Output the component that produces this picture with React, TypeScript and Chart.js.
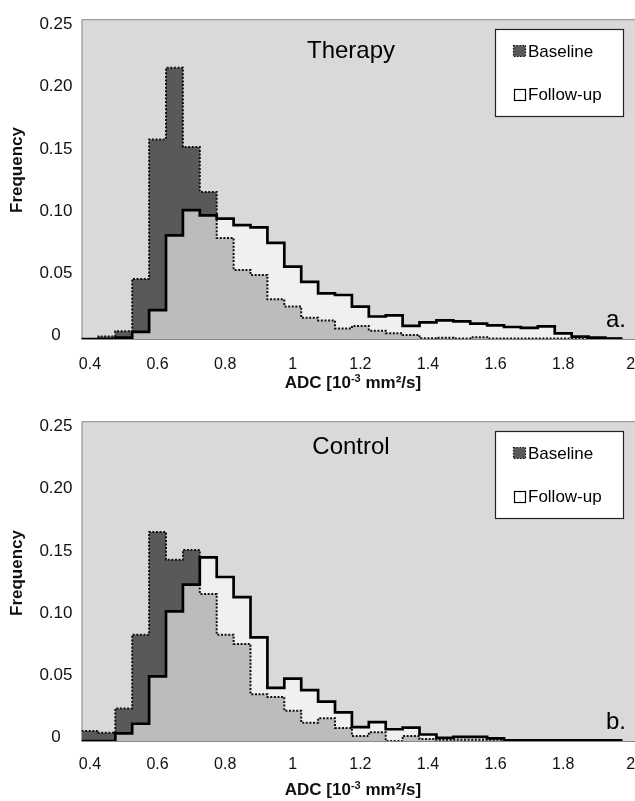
import React, { useEffect, useRef } from 'react';
import { Chart, registerables } from 'chart.js';

Chart.register(...registerables);

const FONT = "'Liberation Sans', Arial, Helvetica, sans-serif";

// Histogram bins (centres, 10^-3 mm²/s), bin width 0.05
const BIN_CENTERS = [
  0.40, 0.45, 0.50, 0.55, 0.60, 0.65, 0.70, 0.75, 0.80, 0.85, 0.90, 0.95,
  1.00, 1.05, 1.10, 1.15, 1.20, 1.25, 1.30, 1.35, 1.40, 1.45, 1.50, 1.55,
  1.60, 1.65, 1.70, 1.75, 1.80, 1.85, 1.90, 1.95,
];
const BIN_HALF_WIDTH = 0.025;

const X_TICKS = [0.4, 0.6, 0.8, 1, 1.2, 1.4, 1.6, 1.8, 2];
const Y_TICKS = [0, 0.05, 0.1, 0.15, 0.2, 0.25];
const SERIES_LABELS = ['Baseline', 'Follow-up'];
const Y_TITLE = 'Frequency';

const THERAPY_BASELINE = [
  0, 0.002, 0.006, 0.047, 0.156, 0.212, 0.150, 0.115, 0.079, 0.054, 0.050, 0.031,
  0.0255, 0.0166, 0.0145, 0.0082, 0.0102, 0.0064, 0.0044, 0.0031, 0.0005, 0.001, 0.0004, 0.0013,
  0.0004, 0.0003, 0.0003, 0.0003, 0.0003, 0.0003, 0.0003, 0.0003,
];
const THERAPY_FOLLOWUP = [
  0, 0, 0.001, 0.0056, 0.0225, 0.081, 0.1008, 0.0967, 0.0941, 0.089, 0.0872, 0.0752,
  0.0566, 0.0446, 0.0357, 0.0344, 0.0253, 0.0176, 0.0184, 0.0102, 0.013, 0.0145, 0.0138, 0.012,
  0.0107, 0.0094, 0.0087, 0.0099, 0.0044, 0.0018, 0.001, 0.0003,
];
const CONTROL_BASELINE = [
  0.0079, 0.0064, 0.0255, 0.0831, 0.1634, 0.1417, 0.1493, 0.1149, 0.0831, 0.0759, 0.0365, 0.0344,
  0.0237, 0.0143, 0.0178, 0.0102, 0.004, 0.0068, 0, 0.004, 0.0015, 0.001, 0.001, 0.001,
  0.001, 0, 0, 0, 0, 0, 0, 0,
];
const CONTROL_FOLLOWUP = [
  0, 0, 0.0059, 0.0135, 0.0505, 0.1014, 0.1223, 0.1435, 0.1282, 0.1124, 0.081, 0.0415,
  0.0487, 0.0398, 0.0308, 0.0224, 0.0109, 0.0148, 0.0092, 0.0105, 0.0051, 0.0025, 0.0033, 0.0033,
  0.002, 0.0005, 0.0005, 0.0005, 0.0005, 0.0005, 0.0005, 0.0005,
];

function steps(vals: number[]) {
  const pts = BIN_CENTERS.map((c, i) => ({ x: c - BIN_HALF_WIDTH, y: vals[i] }));
  pts.push({ x: BIN_CENTERS[BIN_CENTERS.length - 1] + BIN_HALF_WIDTH, y: vals[vals.length - 1] });
  return pts;
}

interface PanelSpec {
  title: string;
  letter: string;
  baseline: number[];
  followup: number[];
  height: number;
  titleBaseline: number;
  xTitleBaseline: number;
  yTitleCenter: number;
  tickPadding: number;
}

const plotBackground = {
  id: 'plotBackground',
  beforeDraw(chart: any) {
    const { ctx, chartArea: a } = chart;
    ctx.save();
    ctx.fillStyle = '#ffffff';
    ctx.fillRect(0, 0, chart.width, chart.height);
    ctx.fillStyle = '#d9d9d9';
    ctx.fillRect(a.left, a.top, a.right - a.left, a.bottom - a.top);
    ctx.strokeStyle = '#8a8a8a';
    ctx.lineWidth = 1;
    ctx.beginPath();
    ctx.moveTo(a.left + 0.5, a.bottom + 0.5);
    ctx.lineTo(a.left + 0.5, a.top + 0.5);
    ctx.lineTo(a.right, a.top + 0.5);
    ctx.moveTo(a.left, a.bottom + 0.5);
    ctx.lineTo(a.right, a.bottom + 0.5);
    ctx.stroke();
    ctx.restore();
  },
};

function overlayPlugin(spec: PanelSpec) {
  return {
    id: 'overlay',
    afterDraw(chart: any) {
      const { ctx } = chart;
      ctx.save();
      ctx.fillStyle = '#000';
      // panel title
      ctx.font = `24px ${FONT}`;
      ctx.textAlign = 'center';
      ctx.textBaseline = 'alphabetic';
      ctx.fillText(spec.title, 351, spec.titleBaseline);
      // panel letter
      ctx.textAlign = 'right';
      ctx.fillText(spec.letter, 626, 327);

      // y-axis title
      ctx.save();
      ctx.translate(17, spec.yTitleCenter);
      ctx.rotate(-Math.PI / 2);
      ctx.font = `bold 17px ${FONT}`;
      ctx.fillStyle = '#111';
      ctx.textAlign = 'center';
      ctx.textBaseline = 'middle';
      ctx.fillText(Y_TITLE, 0, 0);
      ctx.restore();

      // legend box
      ctx.fillStyle = '#ffffff';
      ctx.fillRect(495, 29, 128, 87);
      ctx.strokeStyle = '#222';
      ctx.lineWidth = 1.2;
      ctx.strokeRect(495.5, 29.5, 128, 87);
      // baseline marker
      ctx.fillStyle = '#595959';
      ctx.fillRect(513.5, 45.5, 12, 11);
      ctx.setLineDash([1.5, 1.5]);
      ctx.strokeStyle = '#111';
      ctx.lineWidth = 1.2;
      ctx.strokeRect(513.5, 45.5, 12, 11);
      ctx.setLineDash([]);
      // follow-up marker
      ctx.fillStyle = '#ffffff';
      ctx.fillRect(514.5, 89.5, 11, 11);
      ctx.strokeStyle = '#000';
      ctx.lineWidth = 1.2;
      ctx.strokeRect(514.5, 89.5, 11, 11);
      ctx.fillStyle = '#000';
      ctx.font = `17px ${FONT}`;
      ctx.textAlign = 'left';
      ctx.textBaseline = 'middle';
      ctx.fillText(SERIES_LABELS[0], 528, 52);
      ctx.fillText(SERIES_LABELS[1], 528, 95);

      // x-axis title with superscript
      const big = `bold 17px ${FONT}`;
      const small = `bold 11px ${FONT}`;
      const p1 = 'ADC [10';
      const p2 = '-3';
      const p3 = ' mm²/s]';
      ctx.font = big;
      const w1 = ctx.measureText(p1).width;
      const w3 = ctx.measureText(p3).width;
      ctx.font = small;
      const w2 = ctx.measureText(p2).width;
      const total = w1 + w2 + w3;
      let x = 353 - total / 2;
      ctx.fillStyle = '#111';
      ctx.textAlign = 'left';
      ctx.textBaseline = 'alphabetic';
      ctx.font = big;
      ctx.fillText(p1, x, spec.xTitleBaseline);
      x += w1;
      ctx.font = small;
      ctx.fillText(p2, x, spec.xTitleBaseline - 6);
      x += w2;
      ctx.font = big;
      ctx.fillText(p3, x, spec.xTitleBaseline);
      ctx.restore();
    },
  };
}

function makeConfig(spec: PanelSpec): any {
  const xAxisHeight = spec.height - 339;
  return {
    type: 'line',
    data: {
      datasets: [
        {
          label: SERIES_LABELS[1],
          data: steps(spec.followup),
          stepped: 'before',
          borderColor: '#000',
          borderWidth: 2.7,
          backgroundColor: 'rgba(255,255,255,0.6)',
          fill: 'origin',
          pointRadius: 0,
          yAxisID: 'y',
        },
        {
          label: SERIES_LABELS[0],
          data: steps(spec.baseline),
          stepped: 'before',
          borderColor: '#111',
          borderWidth: 2,
          borderDash: [2, 1.6],
          backgroundColor: '#595959',
          fill: 'origin',
          pointRadius: 0,
          yAxisID: 'y',
        },
      ],
    },
    options: {
      animation: false,
      responsive: false,
      maintainAspectRatio: false,
      devicePixelRatio: 1,
      layout: { padding: { top: 12, left: 0, right: 0, bottom: 0 } },
      plugins: {
        legend: { display: false },
        tooltip: { enabled: false },
        filler: { drawTime: 'beforeDatasetsDraw', propagate: false },
      },
      scales: {
        x: {
          type: 'linear',
          min: 0.375,
          max: 2.0125,
          afterBuildTicks: (s: any) => {
            s.ticks = X_TICKS.map((v) => ({ value: v }));
          },
          afterFit: (s: any) => {
            s.height = xAxisHeight;
            s.paddingLeft = 0;
            s.paddingRight = 0;
          },
          grid: { display: false, drawTicks: false },
          border: { display: false },
          ticks: {
            font: { family: FONT, size: 16 },
            color: '#111',
            padding: spec.tickPadding,
            maxRotation: 0,
            autoSkip: false,
            callback: (v: any) => String(v),
          },
        },
        y: {
          type: 'linear',
          display: false,
          min: 0,
          max: 0.25,
        },
        yl: {
          type: 'linear',
          position: 'left',
          min: -0.003,
          max: 0.2543,
          afterBuildTicks: (s: any) => {
            s.ticks = Y_TICKS.map((v) => ({ value: v }));
          },
          afterFit: (s: any) => {
            s.width = 81.5;
          },
          grid: { display: false, drawTicks: false },
          border: { display: false },
          ticks: {
            font: { family: FONT, size: 17 },
            color: '#111',
            crossAlign: 'center',
            padding: 9,
            callback: (v: any) => (v === 0 ? '0' : Number(v).toFixed(2)),
          },
        },
      },
    },
    plugins: [plotBackground, overlayPlugin(spec)],
  };
}

const PANELS: PanelSpec[] = [
  {
    title: 'Therapy',
    letter: 'a.',
    baseline: THERAPY_BASELINE,
    followup: THERAPY_FOLLOWUP,
    height: 402,
    titleBaseline: 58,
    xTitleBaseline: 388,
    yTitleCenter: 170,
    tickPadding: 16,
  },
  {
    title: 'Control',
    letter: 'b.',
    baseline: CONTROL_BASELINE,
    followup: CONTROL_FOLLOWUP,
    height: 399,
    titleBaseline: 52,
    xTitleBaseline: 393,
    yTitleCenter: 171,
    tickPadding: 14,
  },
];

function Panel({ spec }: { spec: PanelSpec }) {
  const ref = useRef<HTMLCanvasElement | null>(null);
  useEffect(() => {
    if (!ref.current) return;
    const chart = new Chart(ref.current, makeConfig(spec));
    return () => chart.destroy();
  }, [spec]);
  return <canvas ref={ref} width={635} height={spec.height} style={{ display: 'block', width: 635, height: spec.height }} />;
}

export default function App() {
  return (
    <div style={{ position: 'absolute', left: 0, top: 0, width: 635, height: 801, background: '#fff', overflow: 'hidden' }}>
      {PANELS.map((p) => (
        <Panel key={p.letter} spec={p} />
      ))}
    </div>
  );
}
